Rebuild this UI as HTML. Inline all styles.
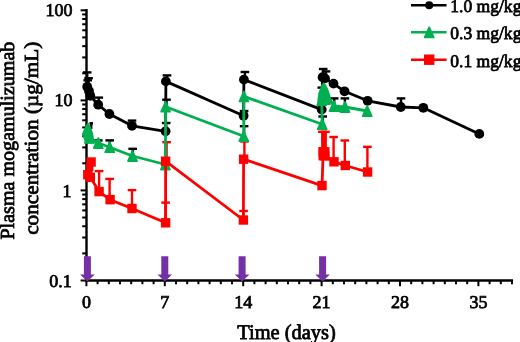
<!DOCTYPE html>
<html><head><meta charset="utf-8"><style>
html,body{margin:0;padding:0;background:#fff;overflow:hidden;}
svg{display:block;filter:blur(0.35px);}
text{font-family:"Liberation Serif",serif;text-rendering:geometricPrecision;fill:#000;stroke:#000;stroke-width:0.75px;}
</style></head><body>
<svg width="520" height="342" viewBox="0 0 520 342">
<rect width="520" height="342" fill="#fff"/>
<line x1="86.5" y1="9" x2="86.5" y2="281.7" stroke="#000" stroke-width="2.4"/>
<line x1="80.6" y1="10.3" x2="86" y2="10.3" stroke="#000" stroke-width="2"/>
<line x1="80.6" y1="100.4" x2="86" y2="100.4" stroke="#000" stroke-width="2"/>
<line x1="80.6" y1="190.4" x2="86" y2="190.4" stroke="#000" stroke-width="2"/>
<line x1="80.6" y1="280.5" x2="86" y2="280.5" stroke="#000" stroke-width="2"/>
<line x1="82.2" y1="73.28" x2="86" y2="73.28" stroke="#000" stroke-width="2"/>
<line x1="82.2" y1="57.41" x2="86" y2="57.41" stroke="#000" stroke-width="2"/>
<line x1="82.2" y1="46.15" x2="86" y2="46.15" stroke="#000" stroke-width="2"/>
<line x1="82.2" y1="37.42" x2="86" y2="37.42" stroke="#000" stroke-width="2"/>
<line x1="82.2" y1="30.29" x2="86" y2="30.29" stroke="#000" stroke-width="2"/>
<line x1="82.2" y1="24.26" x2="86" y2="24.26" stroke="#000" stroke-width="2"/>
<line x1="82.2" y1="19.03" x2="86" y2="19.03" stroke="#000" stroke-width="2"/>
<line x1="82.2" y1="14.42" x2="86" y2="14.42" stroke="#000" stroke-width="2"/>
<line x1="82.2" y1="163.28" x2="86" y2="163.28" stroke="#000" stroke-width="2"/>
<line x1="82.2" y1="147.41" x2="86" y2="147.41" stroke="#000" stroke-width="2"/>
<line x1="82.2" y1="136.15" x2="86" y2="136.15" stroke="#000" stroke-width="2"/>
<line x1="82.2" y1="127.42" x2="86" y2="127.42" stroke="#000" stroke-width="2"/>
<line x1="82.2" y1="120.29" x2="86" y2="120.29" stroke="#000" stroke-width="2"/>
<line x1="82.2" y1="114.26" x2="86" y2="114.26" stroke="#000" stroke-width="2"/>
<line x1="82.2" y1="109.03" x2="86" y2="109.03" stroke="#000" stroke-width="2"/>
<line x1="82.2" y1="104.42" x2="86" y2="104.42" stroke="#000" stroke-width="2"/>
<line x1="82.2" y1="253.38" x2="86" y2="253.38" stroke="#000" stroke-width="2"/>
<line x1="82.2" y1="237.51" x2="86" y2="237.51" stroke="#000" stroke-width="2"/>
<line x1="82.2" y1="226.25" x2="86" y2="226.25" stroke="#000" stroke-width="2"/>
<line x1="82.2" y1="217.52" x2="86" y2="217.52" stroke="#000" stroke-width="2"/>
<line x1="82.2" y1="210.39" x2="86" y2="210.39" stroke="#000" stroke-width="2"/>
<line x1="82.2" y1="204.36" x2="86" y2="204.36" stroke="#000" stroke-width="2"/>
<line x1="82.2" y1="199.13" x2="86" y2="199.13" stroke="#000" stroke-width="2"/>
<line x1="82.2" y1="194.52" x2="86" y2="194.52" stroke="#000" stroke-width="2"/>
<line x1="85.3" y1="280.5" x2="513" y2="280.5" stroke="#000" stroke-width="2.4"/>
<line x1="86.40" y1="281" x2="86.40" y2="286.2" stroke="#000" stroke-width="2"/>
<line x1="97.60" y1="281" x2="97.60" y2="284.2" stroke="#000" stroke-width="2"/>
<line x1="108.80" y1="281" x2="108.80" y2="284.2" stroke="#000" stroke-width="2"/>
<line x1="120.00" y1="281" x2="120.00" y2="284.2" stroke="#000" stroke-width="2"/>
<line x1="131.20" y1="281" x2="131.20" y2="284.2" stroke="#000" stroke-width="2"/>
<line x1="142.40" y1="281" x2="142.40" y2="284.2" stroke="#000" stroke-width="2"/>
<line x1="153.60" y1="281" x2="153.60" y2="284.2" stroke="#000" stroke-width="2"/>
<line x1="164.80" y1="281" x2="164.80" y2="286.2" stroke="#000" stroke-width="2"/>
<line x1="176.00" y1="281" x2="176.00" y2="284.2" stroke="#000" stroke-width="2"/>
<line x1="187.20" y1="281" x2="187.20" y2="284.2" stroke="#000" stroke-width="2"/>
<line x1="198.40" y1="281" x2="198.40" y2="284.2" stroke="#000" stroke-width="2"/>
<line x1="209.60" y1="281" x2="209.60" y2="284.2" stroke="#000" stroke-width="2"/>
<line x1="220.80" y1="281" x2="220.80" y2="284.2" stroke="#000" stroke-width="2"/>
<line x1="232.00" y1="281" x2="232.00" y2="284.2" stroke="#000" stroke-width="2"/>
<line x1="243.20" y1="281" x2="243.20" y2="286.2" stroke="#000" stroke-width="2"/>
<line x1="254.40" y1="281" x2="254.40" y2="284.2" stroke="#000" stroke-width="2"/>
<line x1="265.60" y1="281" x2="265.60" y2="284.2" stroke="#000" stroke-width="2"/>
<line x1="276.80" y1="281" x2="276.80" y2="284.2" stroke="#000" stroke-width="2"/>
<line x1="288.00" y1="281" x2="288.00" y2="284.2" stroke="#000" stroke-width="2"/>
<line x1="299.20" y1="281" x2="299.20" y2="284.2" stroke="#000" stroke-width="2"/>
<line x1="310.40" y1="281" x2="310.40" y2="284.2" stroke="#000" stroke-width="2"/>
<line x1="321.60" y1="281" x2="321.60" y2="286.2" stroke="#000" stroke-width="2"/>
<line x1="332.80" y1="281" x2="332.80" y2="284.2" stroke="#000" stroke-width="2"/>
<line x1="344.00" y1="281" x2="344.00" y2="284.2" stroke="#000" stroke-width="2"/>
<line x1="355.20" y1="281" x2="355.20" y2="284.2" stroke="#000" stroke-width="2"/>
<line x1="366.40" y1="281" x2="366.40" y2="284.2" stroke="#000" stroke-width="2"/>
<line x1="377.60" y1="281" x2="377.60" y2="284.2" stroke="#000" stroke-width="2"/>
<line x1="388.80" y1="281" x2="388.80" y2="284.2" stroke="#000" stroke-width="2"/>
<line x1="400.00" y1="281" x2="400.00" y2="286.2" stroke="#000" stroke-width="2"/>
<line x1="411.20" y1="281" x2="411.20" y2="284.2" stroke="#000" stroke-width="2"/>
<line x1="422.40" y1="281" x2="422.40" y2="284.2" stroke="#000" stroke-width="2"/>
<line x1="433.60" y1="281" x2="433.60" y2="284.2" stroke="#000" stroke-width="2"/>
<line x1="444.80" y1="281" x2="444.80" y2="284.2" stroke="#000" stroke-width="2"/>
<line x1="456.00" y1="281" x2="456.00" y2="284.2" stroke="#000" stroke-width="2"/>
<line x1="467.20" y1="281" x2="467.20" y2="284.2" stroke="#000" stroke-width="2"/>
<line x1="478.40" y1="281" x2="478.40" y2="286.2" stroke="#000" stroke-width="2"/>
<line x1="489.60" y1="281" x2="489.60" y2="284.2" stroke="#000" stroke-width="2"/>
<line x1="500.80" y1="281" x2="500.80" y2="284.2" stroke="#000" stroke-width="2"/>
<line x1="512.00" y1="281" x2="512.00" y2="284.2" stroke="#000" stroke-width="2"/>
<line x1="87.2" y1="86.8" x2="87.2" y2="72.4" stroke="#000000" stroke-width="2.4"/>
<line x1="82.9" y1="72.4" x2="91.5" y2="72.4" stroke="#000000" stroke-width="2.4"/>
<line x1="88.6" y1="91.0" x2="88.6" y2="78.2" stroke="#000000" stroke-width="2.4"/>
<line x1="84.3" y1="78.2" x2="92.89999999999999" y2="78.2" stroke="#000000" stroke-width="2.4"/>
<line x1="87.7" y1="88" x2="87.7" y2="80.3" stroke="#000000" stroke-width="2.4"/>
<line x1="83.4" y1="80.3" x2="92.0" y2="80.3" stroke="#000000" stroke-width="2.4"/>
<line x1="98.8" y1="104.7" x2="98.8" y2="97.6" stroke="#000000" stroke-width="2.4"/>
<line x1="94.5" y1="97.6" x2="103.1" y2="97.6" stroke="#000000" stroke-width="2.4"/>
<line x1="132.0" y1="125.8" x2="132.0" y2="120.6" stroke="#000000" stroke-width="2.4"/>
<line x1="127.7" y1="120.6" x2="136.3" y2="120.6" stroke="#000000" stroke-width="2.4"/>
<line x1="166.2" y1="131.3" x2="166.2" y2="123.0" stroke="#000000" stroke-width="2.4"/>
<line x1="161.89999999999998" y1="123.0" x2="170.5" y2="123.0" stroke="#000000" stroke-width="2.4"/>
<line x1="167.0" y1="81.4" x2="167.0" y2="75.4" stroke="#000000" stroke-width="2.4"/>
<line x1="162.7" y1="75.4" x2="171.3" y2="75.4" stroke="#000000" stroke-width="2.4"/>
<line x1="244.1" y1="115.8" x2="244.1" y2="111.0" stroke="#000000" stroke-width="2.4"/>
<line x1="239.79999999999998" y1="111.0" x2="248.4" y2="111.0" stroke="#000000" stroke-width="2.4"/>
<line x1="244.9" y1="79.6" x2="244.9" y2="72.0" stroke="#000000" stroke-width="2.4"/>
<line x1="240.6" y1="72.0" x2="249.20000000000002" y2="72.0" stroke="#000000" stroke-width="2.4"/>
<line x1="323.2" y1="77.2" x2="323.2" y2="69.0" stroke="#000000" stroke-width="2.4"/>
<line x1="318.9" y1="69.0" x2="327.5" y2="69.0" stroke="#000000" stroke-width="2.4"/>
<line x1="326" y1="78.4" x2="326" y2="71.4" stroke="#000000" stroke-width="2.4"/>
<line x1="321.7" y1="71.4" x2="330.3" y2="71.4" stroke="#000000" stroke-width="2.4"/>
<line x1="401" y1="107" x2="401" y2="98.4" stroke="#000000" stroke-width="2.4"/>
<line x1="396.7" y1="98.4" x2="405.3" y2="98.4" stroke="#000000" stroke-width="2.4"/>
<line x1="91.2" y1="129.0" x2="91.2" y2="123.3" stroke="#000000" stroke-width="2.4"/>
<line x1="89.4" y1="123.3" x2="93.0" y2="123.3" stroke="#000000" stroke-width="2.4"/>
<line x1="98.3" y1="143" x2="98.3" y2="140.4" stroke="#000000" stroke-width="2.4"/>
<line x1="94.0" y1="140.4" x2="102.6" y2="140.4" stroke="#000000" stroke-width="2.4"/>
<line x1="109.7" y1="147.2" x2="109.7" y2="140.4" stroke="#000000" stroke-width="2.4"/>
<line x1="105.4" y1="140.4" x2="114.0" y2="140.4" stroke="#000000" stroke-width="2.4"/>
<line x1="132.7" y1="156.0" x2="132.7" y2="148.8" stroke="#000000" stroke-width="2.4"/>
<line x1="128.39999999999998" y1="148.8" x2="137.0" y2="148.8" stroke="#000000" stroke-width="2.4"/>
<line x1="166.5" y1="106.7" x2="166.5" y2="99.7" stroke="#000000" stroke-width="2.4"/>
<line x1="162.2" y1="99.7" x2="170.8" y2="99.7" stroke="#000000" stroke-width="2.4"/>
<line x1="244.1" y1="136.2" x2="244.1" y2="126.2" stroke="#000000" stroke-width="2.4"/>
<line x1="239.79999999999998" y1="126.2" x2="248.4" y2="126.2" stroke="#000000" stroke-width="2.4"/>
<line x1="322.7" y1="124.2" x2="322.7" y2="116.5" stroke="#000000" stroke-width="2.4"/>
<line x1="318.4" y1="116.5" x2="327.0" y2="116.5" stroke="#000000" stroke-width="2.4"/>
<line x1="321.8" y1="88.5" x2="321.8" y2="87.6" stroke="#000000" stroke-width="2.4"/>
<line x1="317.5" y1="87.6" x2="326.1" y2="87.6" stroke="#000000" stroke-width="2.4"/>
<line x1="334.2" y1="106.2" x2="334.2" y2="98.4" stroke="#000000" stroke-width="2.4"/>
<line x1="329.9" y1="98.4" x2="338.5" y2="98.4" stroke="#000000" stroke-width="2.4"/>
<line x1="344.9" y1="107.0" x2="344.9" y2="98.4" stroke="#000000" stroke-width="2.4"/>
<line x1="340.59999999999997" y1="98.4" x2="349.2" y2="98.4" stroke="#000000" stroke-width="2.4"/>
<line x1="99.1" y1="191.6" x2="99.1" y2="171.1" stroke="#FF0000" stroke-width="2.4"/>
<line x1="94.8" y1="171.1" x2="103.39999999999999" y2="171.1" stroke="#FF0000" stroke-width="2.4"/>
<line x1="109.6" y1="199.7" x2="109.6" y2="178.9" stroke="#FF0000" stroke-width="2.4"/>
<line x1="105.3" y1="178.9" x2="113.89999999999999" y2="178.9" stroke="#FF0000" stroke-width="2.4"/>
<line x1="132.0" y1="208.5" x2="132.0" y2="190.1" stroke="#FF0000" stroke-width="2.4"/>
<line x1="127.7" y1="190.1" x2="136.3" y2="190.1" stroke="#FF0000" stroke-width="2.4"/>
<line x1="165.6" y1="222.8" x2="165.6" y2="202.6" stroke="#FF0000" stroke-width="2.4"/>
<line x1="161.29999999999998" y1="202.6" x2="169.9" y2="202.6" stroke="#FF0000" stroke-width="2.4"/>
<line x1="243.6" y1="220.0" x2="243.6" y2="211.0" stroke="#FF0000" stroke-width="2.4"/>
<line x1="239.29999999999998" y1="211.0" x2="247.9" y2="211.0" stroke="#FF0000" stroke-width="2.4"/>
<line x1="166.6" y1="161.2" x2="166.6" y2="142.2" stroke="#FF0000" stroke-width="2.4"/>
<line x1="162.29999999999998" y1="142.2" x2="170.9" y2="142.2" stroke="#FF0000" stroke-width="2.4"/>
<line x1="244.4" y1="159.2" x2="244.4" y2="141.5" stroke="#FF0000" stroke-width="2.4"/>
<line x1="240.1" y1="141.5" x2="248.70000000000002" y2="141.5" stroke="#FF0000" stroke-width="2.4"/>
<line x1="322.4" y1="151.3" x2="322.4" y2="131.8" stroke="#FF0000" stroke-width="2.4"/>
<line x1="318.09999999999997" y1="131.8" x2="326.7" y2="131.8" stroke="#FF0000" stroke-width="2.4"/>
<line x1="325.4" y1="155.7" x2="325.4" y2="131.8" stroke="#FF0000" stroke-width="2.4"/>
<line x1="321.09999999999997" y1="131.8" x2="329.7" y2="131.8" stroke="#FF0000" stroke-width="2.4"/>
<line x1="333.6" y1="161.8" x2="333.6" y2="137.0" stroke="#FF0000" stroke-width="2.4"/>
<line x1="329.3" y1="137.0" x2="337.90000000000003" y2="137.0" stroke="#FF0000" stroke-width="2.4"/>
<line x1="344.8" y1="165.5" x2="344.8" y2="140.5" stroke="#FF0000" stroke-width="2.4"/>
<line x1="340.5" y1="140.5" x2="349.1" y2="140.5" stroke="#FF0000" stroke-width="2.4"/>
<line x1="367.4" y1="172.0" x2="367.4" y2="146.8" stroke="#FF0000" stroke-width="2.4"/>
<line x1="363.09999999999997" y1="146.8" x2="371.7" y2="146.8" stroke="#FF0000" stroke-width="2.4"/>
<rect x="321.3" y="131.8" width="5.4" height="16" fill="#FF0000"/>
<polyline points="87.2,86.8 89.0,91.0 90.3,95.8 98.2,104.7 109.4,114.0 132.0,125.8 165.6,131.3 165.9,81.4 243.6,115.8 243.9,79.6 321.7,109.6 322.6,77.2 325.0,78.4 333.5,83.6 344.5,91.3 367.6,100.8 400.8,107.0 423.3,107.8 479.3,133.9" fill="none" stroke="#000000" stroke-width="2.8" stroke-linejoin="round"/>
<circle cx="87.2" cy="86.8" r="4.9" fill="#000000"/>
<circle cx="89.0" cy="91.0" r="4.9" fill="#000000"/>
<circle cx="90.3" cy="95.8" r="4.9" fill="#000000"/>
<circle cx="98.2" cy="104.7" r="4.9" fill="#000000"/>
<circle cx="109.4" cy="114.0" r="4.9" fill="#000000"/>
<circle cx="132.0" cy="125.8" r="4.9" fill="#000000"/>
<circle cx="165.6" cy="131.3" r="4.9" fill="#000000"/>
<circle cx="165.9" cy="81.4" r="4.9" fill="#000000"/>
<circle cx="243.6" cy="115.8" r="4.9" fill="#000000"/>
<circle cx="243.9" cy="79.6" r="4.9" fill="#000000"/>
<circle cx="321.7" cy="109.6" r="4.9" fill="#000000"/>
<circle cx="322.6" cy="77.2" r="4.9" fill="#000000"/>
<circle cx="325.0" cy="78.4" r="4.9" fill="#000000"/>
<circle cx="333.5" cy="83.6" r="4.9" fill="#000000"/>
<circle cx="344.5" cy="91.3" r="4.9" fill="#000000"/>
<circle cx="367.6" cy="100.8" r="4.9" fill="#000000"/>
<circle cx="400.8" cy="107.0" r="4.9" fill="#000000"/>
<circle cx="423.3" cy="107.8" r="4.9" fill="#000000"/>
<circle cx="479.3" cy="133.9" r="4.9" fill="#000000"/>
<polyline points="87.7,129.0 89.4,137.8 98.3,143.0 109.7,147.2 132.5,156.0 165.4,164.5 165.6,106.7 243.7,136.2 243.9,96.4 322.2,124.2 321.7,100.2 323.2,94.0 323.6,88.5 334.0,106.2 345.0,107.0 367.2,111.0" fill="none" stroke="#00B050" stroke-width="2.8" stroke-linejoin="round"/>
<path d="M87.7,123.9 L92.3,134.1 L83.10000000000001,134.1 Z" fill="#00B050" stroke="#00B050" stroke-width="1.6" stroke-linejoin="round"/>
<path d="M89.4,132.70000000000002 L94.0,142.9 L84.80000000000001,142.9 Z" fill="#00B050" stroke="#00B050" stroke-width="1.6" stroke-linejoin="round"/>
<path d="M98.3,137.9 L102.89999999999999,148.1 L93.7,148.1 Z" fill="#00B050" stroke="#00B050" stroke-width="1.6" stroke-linejoin="round"/>
<path d="M109.7,142.1 L114.3,152.29999999999998 L105.10000000000001,152.29999999999998 Z" fill="#00B050" stroke="#00B050" stroke-width="1.6" stroke-linejoin="round"/>
<path d="M132.5,150.9 L137.1,161.1 L127.9,161.1 Z" fill="#00B050" stroke="#00B050" stroke-width="1.6" stroke-linejoin="round"/>
<path d="M165.4,159.4 L170.0,169.6 L160.8,169.6 Z" fill="#00B050" stroke="#00B050" stroke-width="1.6" stroke-linejoin="round"/>
<path d="M165.6,101.60000000000001 L170.2,111.8 L161.0,111.8 Z" fill="#00B050" stroke="#00B050" stroke-width="1.6" stroke-linejoin="round"/>
<path d="M243.7,131.1 L248.29999999999998,141.29999999999998 L239.1,141.29999999999998 Z" fill="#00B050" stroke="#00B050" stroke-width="1.6" stroke-linejoin="round"/>
<path d="M243.9,91.30000000000001 L248.5,101.5 L239.3,101.5 Z" fill="#00B050" stroke="#00B050" stroke-width="1.6" stroke-linejoin="round"/>
<path d="M322.2,119.10000000000001 L326.8,129.3 L317.59999999999997,129.3 Z" fill="#00B050" stroke="#00B050" stroke-width="1.6" stroke-linejoin="round"/>
<path d="M321.7,95.10000000000001 L326.3,105.3 L317.09999999999997,105.3 Z" fill="#00B050" stroke="#00B050" stroke-width="1.6" stroke-linejoin="round"/>
<path d="M323.2,88.9 L327.8,99.1 L318.59999999999997,99.1 Z" fill="#00B050" stroke="#00B050" stroke-width="1.6" stroke-linejoin="round"/>
<path d="M323.6,83.4 L328.20000000000005,93.6 L319.0,93.6 Z" fill="#00B050" stroke="#00B050" stroke-width="1.6" stroke-linejoin="round"/>
<path d="M334.0,101.10000000000001 L338.6,111.3 L329.4,111.3 Z" fill="#00B050" stroke="#00B050" stroke-width="1.6" stroke-linejoin="round"/>
<path d="M345.0,101.9 L349.6,112.1 L340.4,112.1 Z" fill="#00B050" stroke="#00B050" stroke-width="1.6" stroke-linejoin="round"/>
<path d="M367.2,105.9 L371.8,116.1 L362.59999999999997,116.1 Z" fill="#00B050" stroke="#00B050" stroke-width="1.6" stroke-linejoin="round"/>
<path d="M88.1,122.4 L91.2,127.6 L93.5,135.5 L94.3,143.6 L85.6,143.6 L84,139.5 L81.9,134.2 L84.5,128 Z" fill="#00B050"/>
<path d="M334,106 L345,106.5 L348,112.3 L331,112 Z" fill="#00B050"/>
<path d="M323.7,82.6 L325.8,84.6 L328.3,89.4 L330.2,95 L331,100 L330.8,105 L317.5,105 L317.4,100 L318.3,94 L319.8,89.4 L321.6,84.6 Z" fill="#00B050"/>
<polyline points="91.1,162.0 87.8,174.7 90.3,177.3 99.1,191.6 110.1,199.7 132.0,208.5 165.6,222.8 165.6,161.2 243.4,220.0 243.6,159.2 322.0,185.6 323.2,152.0 324.8,155.8 334.0,161.8 345.3,165.5 367.6,172.0" fill="none" stroke="#FF0000" stroke-width="2.8" stroke-linejoin="round"/>
<rect x="86.39999999999999" y="157.3" width="9.4" height="9.4" fill="#FF0000"/>
<rect x="83.1" y="170.0" width="9.4" height="9.4" fill="#FF0000"/>
<rect x="85.6" y="172.60000000000002" width="9.4" height="9.4" fill="#FF0000"/>
<rect x="94.39999999999999" y="186.9" width="9.4" height="9.4" fill="#FF0000"/>
<rect x="105.39999999999999" y="195.0" width="9.4" height="9.4" fill="#FF0000"/>
<rect x="127.3" y="203.8" width="9.4" height="9.4" fill="#FF0000"/>
<rect x="160.9" y="218.10000000000002" width="9.4" height="9.4" fill="#FF0000"/>
<rect x="160.9" y="156.5" width="9.4" height="9.4" fill="#FF0000"/>
<rect x="238.70000000000002" y="215.3" width="9.4" height="9.4" fill="#FF0000"/>
<rect x="238.9" y="154.5" width="9.4" height="9.4" fill="#FF0000"/>
<rect x="317.3" y="180.9" width="9.4" height="9.4" fill="#FF0000"/>
<rect x="318.5" y="147.3" width="9.4" height="9.4" fill="#FF0000"/>
<rect x="320.1" y="151.10000000000002" width="9.4" height="9.4" fill="#FF0000"/>
<rect x="329.3" y="157.10000000000002" width="9.4" height="9.4" fill="#FF0000"/>
<rect x="340.6" y="160.8" width="9.4" height="9.4" fill="#FF0000"/>
<rect x="362.90000000000003" y="167.3" width="9.4" height="9.4" fill="#FF0000"/>
<rect x="86.2" y="163" width="7.2" height="8" fill="#FF0000"/>
<rect x="318.5" y="147.1" width="11" height="13.3" fill="#FF0000"/>
<path d="M83.9,256.3 L90.9,256.3 L90.9,274.4 L94.7,274.4 L87.4,281.6 L80.10000000000001,274.4 L83.9,274.4 Z" fill="#7630A6"/>
<path d="M161.3,256.3 L168.3,256.3 L168.3,274.4 L172.10000000000002,274.4 L164.8,281.6 L157.5,274.4 L161.3,274.4 Z" fill="#7630A6"/>
<path d="M238.6,256.3 L245.6,256.3 L245.6,274.4 L249.4,274.4 L242.1,281.6 L234.79999999999998,274.4 L238.6,274.4 Z" fill="#7630A6"/>
<path d="M319.1,256.3 L326.1,256.3 L326.1,274.4 L329.90000000000003,274.4 L322.6,281.6 L315.3,274.4 L319.1,274.4 Z" fill="#7630A6"/>
<text x="72.6" y="15.5" font-family="Liberation Serif, serif" font-size="18" text-anchor="end">100</text>
<text x="72.6" y="105.6" font-family="Liberation Serif, serif" font-size="18" text-anchor="end">10</text>
<text x="71.6" y="196.6" font-family="Liberation Serif, serif" font-size="18" text-anchor="end">1</text>
<text x="71.8" y="286.6" font-family="Liberation Serif, serif" font-size="18" text-anchor="end">0.1</text>
<text x="86.40" y="308.4" font-family="Liberation Serif, serif" font-size="18" text-anchor="middle">0</text>
<text x="164.80" y="308.4" font-family="Liberation Serif, serif" font-size="18" text-anchor="middle">7</text>
<text x="243.20" y="308.4" font-family="Liberation Serif, serif" font-size="18" text-anchor="middle">14</text>
<text x="321.60" y="308.4" font-family="Liberation Serif, serif" font-size="18" text-anchor="middle">21</text>
<text x="400.00" y="308.4" font-family="Liberation Serif, serif" font-size="18" text-anchor="middle">28</text>
<text x="478.40" y="308.4" font-family="Liberation Serif, serif" font-size="18" text-anchor="middle">35</text>
<text x="237.2" y="338.6" font-family="Liberation Serif, serif" font-size="21" textLength="98.6" lengthAdjust="spacingAndGlyphs">Time (days)</text>
<text transform="translate(14.4,239.6) rotate(-90)" font-family="Liberation Serif, serif" font-size="20" textLength="198" lengthAdjust="spacingAndGlyphs">Plasma mogamulizumab</text>
<text transform="translate(37.8,234.8) rotate(-90)" font-family="Liberation Serif, serif" font-size="20" textLength="193" lengthAdjust="spacingAndGlyphs">concentration (µg/mL)</text>
<line x1="411" y1="5.2" x2="446.6" y2="5.2" stroke="#000000" stroke-width="2.6"/>
<circle cx="429.2" cy="5.2" r="4.0" fill="#000000"/>
<text transform="translate(450.3,12.0) scale(0.98,1)" font-family="Liberation Serif, serif" font-size="17.9">1.0 mg/kg</text>
<line x1="411" y1="32.3" x2="446.6" y2="32.3" stroke="#00B050" stroke-width="2.6"/>
<path d="M429.2,27.199999999999996 L433.8,37.4 L424.59999999999997,37.4 Z" fill="#00B050" stroke="#00B050" stroke-width="1.6" stroke-linejoin="round"/>
<text transform="translate(450.3,39.1) scale(0.98,1)" font-family="Liberation Serif, serif" font-size="17.9">0.3 mg/kg</text>
<line x1="411" y1="59.7" x2="446.6" y2="59.7" stroke="#FF0000" stroke-width="2.6"/>
<rect x="424.0" y="54.5" width="10.4" height="10.4" fill="#FF0000"/>
<text transform="translate(450.3,66.6) scale(0.98,1)" font-family="Liberation Serif, serif" font-size="17.9">0.1 mg/kg</text>
</svg>
</body></html>
